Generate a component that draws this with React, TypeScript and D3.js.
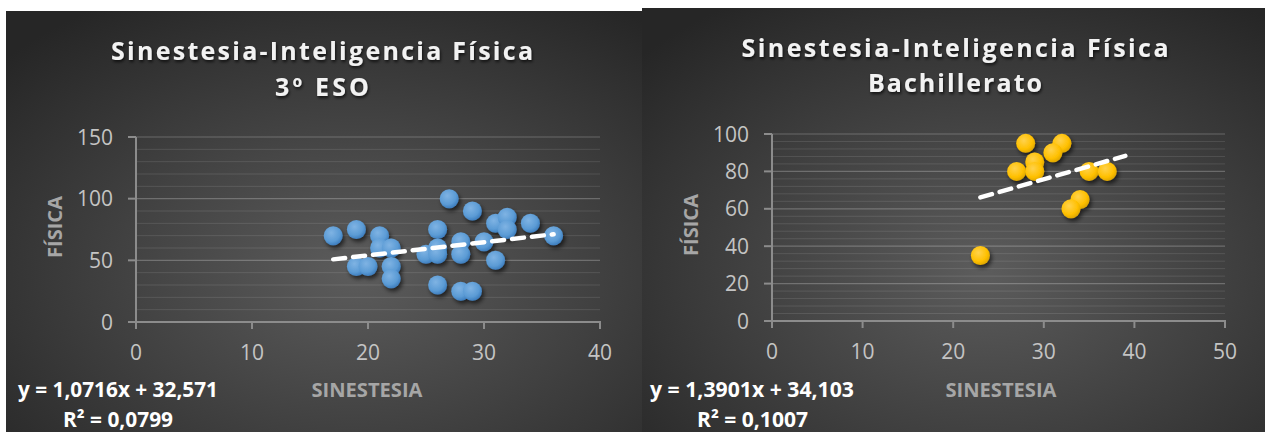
import { useEffect, useRef } from "react"
import * as d3 from "d3"

// 3º ESO
const esoX = [17, 19, 21, 21, 22, 19, 20, 22, 22, 25, 26, 26, 26, 26, 27, 28, 28, 28, 29, 29, 30, 31, 31, 32, 32, 34, 36]
const esoY = [70, 75, 70, 60, 60, 45, 45, 45, 35, 55, 75, 60, 55, 30, 100, 65, 55, 25, 25, 90, 65, 50, 80, 85, 75, 80, 70]
const esoTrend = [17, 36]
const esoXTicks = [0, 10, 20, 30, 40]
const esoYTicks = [0, 50, 100, 150]

// Bachillerato
const bachX = [28, 32, 31, 29, 27, 29, 35, 37, 34, 33, 23]
const bachY = [95, 95, 90, 85, 80, 80, 80, 80, 65, 60, 35]
const bachTrend = [23, 39]
const bachXTicks = [0, 10, 20, 30, 40, 50]
const bachYTicks = [0, 20, 40, 60, 80, 100]

const titleLine1 = "Sinestesia-Inteligencia Física"
const xTitle = "SINESTESIA"
const yTitle = "FÍSICA"

const panels = [
    {
        id: "eso",
        xs: esoX, ys: esoY, trend: esoTrend, slope: 1.0716, intercept: 32.571,
        eq: "y = 1,0716x + 32,571", r2: "R² = 0,0799",
        sub: "3º ESO",
        xTicks: esoXTicks, yTicks: esoYTicks, yMinor: 10,
        color: "#5b9bd5", light: "#7fb3e3", dark: "#3f7fbf",
        box: { x: 6, y: 11, w: 636, h: 421 },
        plot: { l: 136, r: 600, t: 137, b: 322 },
        title: { cx: 322, b1: 60, b2: 96, w: 422, w2: 94 },
        yt: { x: 55, y: 227 }, xt: { cx: 367, b: 397 },
        eqPos: { x: 18, b: 397, w: 200 }, r2Pos: { x: 63, b: 427, w: 110 },
    },
    {
        id: "bach",
        xs: bachX, ys: bachY, trend: bachTrend, slope: 1.3901, intercept: 34.103,
        eq: "y = 1,3901x + 34,103", r2: "R² = 0,1007",
        sub: "Bachillerato",
        xTicks: bachXTicks, yTicks: bachYTicks, yMinor: 4,
        color: "#ffc000", light: "#ffd24d", dark: "#e0a800",
        box: { x: 642, y: 8, w: 623, h: 424 },
        plot: { l: 772, r: 1225, t: 134, b: 321 },
        title: { cx: 955, b1: 57, b2: 92, w: 427, w2: 174 },
        yt: { x: 691, y: 225 }, xt: { cx: 1001, b: 397 },
        eqPos: { x: 650, b: 397, w: 204 }, r2Pos: { x: 697, b: 427, w: 111 },
    },
]

export default function App() {
    const ref = useRef<SVGSVGElement>(null)

    useEffect(() => {
        const svg = d3.select(ref.current)
        svg.selectAll("*").remove()
        const defs = svg.append("defs")

        const sh = defs.append("filter").attr("id", "shadow").attr("x", "-50%").attr("y", "-50%").attr("width", "200%").attr("height", "200%")
        sh.append("feDropShadow").attr("dx", 2).attr("dy", 3).attr("stdDeviation", 2).attr("flood-color", "#000").attr("flood-opacity", 0.6)
        const tsh = defs.append("filter").attr("id", "tshadow").attr("x", "-10%").attr("y", "-30%").attr("width", "120%").attr("height", "160%")
        tsh.append("feDropShadow").attr("dx", 1).attr("dy", 2).attr("stdDeviation", 1.5).attr("flood-color", "#000").attr("flood-opacity", 0.7)

        panels.forEach(p => {
            const bg = defs.append("radialGradient").attr("id", `bg-${p.id}`)
                .attr("cx", "55%").attr("cy", "62%").attr("r", "75%")
            bg.append("stop").attr("offset", "0%").attr("stop-color", "#5c5c5c")
            bg.append("stop").attr("offset", "100%").attr("stop-color", "#262626")

            const mk = defs.append("radialGradient").attr("id", `mk-${p.id}`)
                .attr("cx", "40%").attr("cy", "35%").attr("r", "65%")
            mk.append("stop").attr("offset", "0%").attr("stop-color", p.light)
            mk.append("stop").attr("offset", "70%").attr("stop-color", p.color)
            mk.append("stop").attr("offset", "100%").attr("stop-color", p.dark)

            const g = svg.append("g")
            g.append("rect")
                .attr("x", p.box.x).attr("y", p.box.y).attr("width", p.box.w).attr("height", p.box.h)
                .attr("fill", `url(#bg-${p.id})`)

            const xDom = [p.xTicks[0], p.xTicks[p.xTicks.length - 1]]
            const yDom = [p.yTicks[0], p.yTicks[p.yTicks.length - 1]]
            const x = d3.scaleLinear().domain(xDom).range([p.plot.l, p.plot.r])
            const y = d3.scaleLinear().domain(yDom).range([p.plot.b, p.plot.t])

            // minor gridlines
            const minor = d3.range(yDom[0], yDom[1] + 0.001, p.yMinor).filter(v => !p.yTicks.includes(v))
            g.append("g").selectAll("line").data(minor).join("line")
                .attr("x1", p.plot.l).attr("x2", p.plot.r)
                .attr("y1", d => y(d)).attr("y2", d => y(d))
                .attr("stroke", "#ffffff").attr("stroke-opacity", 0.11).attr("stroke-width", 1)
            // major gridlines
            g.append("g").selectAll("line").data(p.yTicks.slice(1)).join("line")
                .attr("x1", p.plot.l).attr("x2", p.plot.r)
                .attr("y1", d => y(d)).attr("y2", d => y(d))
                .attr("stroke", "#ffffff").attr("stroke-opacity", 0.24).attr("stroke-width", 1.2)

            // axes
            const axisColor = "#8c8c8c"
            g.append("line").attr("x1", p.plot.l).attr("x2", p.plot.l).attr("y1", p.plot.t).attr("y2", p.plot.b + 6)
                .attr("stroke", axisColor).attr("stroke-width", 2)
            g.append("line").attr("x1", p.plot.l - 8).attr("x2", p.plot.r + 1).attr("y1", p.plot.b).attr("y2", p.plot.b)
                .attr("stroke", axisColor).attr("stroke-width", 2)
            g.append("g").selectAll("line").data(p.yTicks).join("line")
                .attr("x1", p.plot.l - 8).attr("x2", p.plot.l)
                .attr("y1", d => y(d)).attr("y2", d => y(d))
                .attr("stroke", axisColor).attr("stroke-width", 2)
            g.append("g").selectAll("line").data(p.xTicks).join("line")
                .attr("x1", d => x(d)).attr("x2", d => x(d))
                .attr("y1", p.plot.b).attr("y2", p.plot.b + 7)
                .attr("stroke", axisColor).attr("stroke-width", 2)

            const font = "'Open Sans', sans-serif"
            g.append("g").selectAll("text").data(p.yTicks).join("text")
                .attr("x", p.plot.l - 23).attr("y", d => y(d) + 7.5)
                .attr("text-anchor", "end").attr("font-family", font).attr("font-size", 21)
                .attr("fill", "#c4c4c4").text(d => d)
            g.append("g").selectAll("text").data(p.xTicks).join("text")
                .attr("x", d => x(d)).attr("y", p.plot.b + 38)
                .attr("text-anchor", "middle").attr("font-family", font).attr("font-size", 21)
                .attr("fill", "#c4c4c4").text(d => d)

            // titles
            g.append("text").attr("x", p.title.cx).attr("y", p.title.b1)
                .attr("text-anchor", "middle").attr("font-family", font).attr("font-weight", 700)
                .attr("font-size", 25).attr("fill", "#f2f2f2").attr("filter", "url(#tshadow)")
                .attr("textLength", p.title.w).attr("lengthAdjust", "spacing")
                .text(titleLine1)
            g.append("text").attr("x", p.title.cx).attr("y", p.title.b2)
                .attr("text-anchor", "middle").attr("font-family", font).attr("font-weight", 700)
                .attr("font-size", 25).attr("fill", "#f2f2f2")
                .attr("textLength", p.title.w2).attr("lengthAdjust", "spacing")
                .attr("filter", "url(#tshadow)")
                .text(p.sub)

            g.append("text")
                .attr("transform", `translate(${p.yt.x + 7},${p.yt.y}) rotate(-90)`)
                .attr("text-anchor", "middle").attr("font-family", font).attr("font-weight", 700)
                .attr("font-size", 20).attr("fill", "#a6a6a6")
                .attr("textLength", 62).attr("lengthAdjust", "spacingAndGlyphs")
                .text(yTitle)
            g.append("text").attr("x", p.xt.cx).attr("y", p.xt.b)
                .attr("text-anchor", "middle").attr("font-family", font).attr("font-weight", 700)
                .attr("font-size", 20).attr("fill", "#a6a6a6")
                .attr("textLength", 111).attr("lengthAdjust", "spacingAndGlyphs")
                .text(xTitle)

            // points
            const pts = d3.zip(p.xs, p.ys)
            g.append("g").attr("filter", "url(#shadow)").selectAll("circle").data(pts).join("circle")
                .attr("cx", d => x(d[0])).attr("cy", d => y(d[1])).attr("r", 9.5)
                .attr("fill", `url(#mk-${p.id})`)

            // trendline
            const line = d3.line<number>().x(d => x(d)).y(d => y(p.slope * d + p.intercept))
            g.append("path").attr("d", line(p.trend))
                .attr("stroke", "#ffffff").attr("stroke-width", 4.5).attr("fill", "none")
                .attr("stroke-dasharray", "12 8").attr("stroke-linecap", "round")

            // equation
            g.append("text").attr("x", p.eqPos.x).attr("y", p.eqPos.b)
                .attr("font-family", font).attr("font-weight", 700).attr("font-size", 21)
                .attr("fill", "#ffffff").attr("textLength", p.eqPos.w).attr("lengthAdjust", "spacingAndGlyphs")
                .text(p.eq)
            g.append("text").attr("x", p.r2Pos.x).attr("y", p.r2Pos.b)
                .attr("font-family", font).attr("font-weight", 700).attr("font-size", 21)
                .attr("fill", "#ffffff").attr("textLength", p.r2Pos.w).attr("lengthAdjust", "spacingAndGlyphs")
                .text(p.r2)
        })
    }, [])

    return (
        <svg ref={ref} width={1265} height={432}
            style={{ position: "absolute", left: 0, top: 0, background: "#ffffff" }} />
    )
}
